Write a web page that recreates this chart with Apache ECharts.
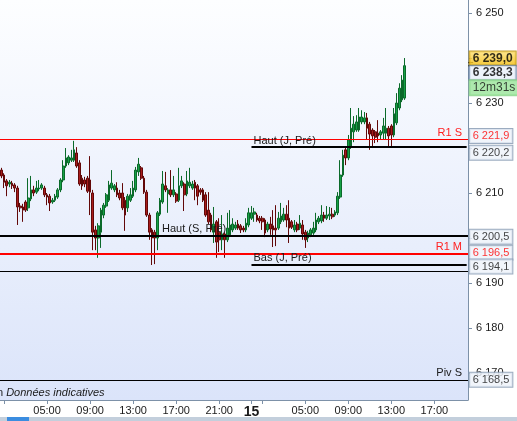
<!DOCTYPE html>
<html><head><meta charset="utf-8">
<script src="https://cdn.jsdelivr.net/npm/echarts@6/dist/echarts.min.js"></script>
<style>html,body{margin:0;padding:0;background:#fff}#c{width:517px;height:421px}</style>
</head><body><div id="c"></div>
<script>
// ---- data (15-minute candles, from 14 00:45) ----
const opens = [6215.1,6214.0,6212.7,6212.0,6212.2,6211.8,6211.1,6207.1,6206.9,6208.0,
6206.7,6208.7,6210.7,6210.2,6210.9,6211.1,6211.1,6209.6,6209.3,6208.0,
6208.4,6209.1,6210.7,6212.9,6216.0,6216.7,6217.3,6217.3,6218.9,6216.7,
6213.3,6212.9,6213.3,6212.9,6210.0,6201.8,6200.0,6201.3,6205.1,6207.1,
6208.4,6211.1,6210.7,6211.1,6210.0,6210.0,6208.4,6206.7,6208.4,6209.3,
6210.7,6214.7,6215.6,6213.3,6210.2,6205.1,6201.8,6201.3,6200.0,6205.3,
6208.0,6211.6,6209.8,6210.7,6209.6,6209.8,6208.4,6211.6,6212.0,6209.8,
6211.6,6211.1,6212.4,6211.6,6210.7,6210.7,6209.6,6206.2,6205.1,6201.3,
6203.6,6201.3,6199.6,6200.9,6199.6,6200.7,6201.8,6202.2,6203.1,6202.7,
6202.2,6201.8,6202.9,6204.4,6205.3,6205.1,6204.4,6204.4,6204.0,6201.8,
6203.1,6202.7,6202.2,6202.2,6203.6,6204.0,6205.3,6204.4,6203.6,6201.8,
6203.1,6202.2,6202.9,6201.3,6200.0,6200.7,6201.1,6201.8,6203.6,6203.8,
6205.1,6204.4,6204.9,6205.3,6205.1,6205.6,6209.1,6214.0,6219.6,6217.8,
6220.2,6223.6,6224.0,6224.0,6225.8,6225.8,6226.7,6225.3,6224.0,6223.6,
6223.3,6222.9,6223.3,6223.3,6224.4,6224.9,6222.9,6225.6,6228.9,6230.7,
6231.1];
const closes = [6213.8,6212.4,6211.6,6212.4,6211.6,6211.1,6206.9,6206.7,6206.2,6206.2,
6208.9,6210.7,6210.0,6211.1,6211.1,6211.8,6209.6,6209.1,6207.8,6208.4,
6209.3,6210.7,6212.9,6216.0,6217.8,6218.0,6217.8,6219.6,6216.0,6212.0,
6211.6,6212.0,6210.4,6210.2,6201.3,6200.0,6202.7,6206.2,6207.3,6209.6,
6211.8,6212.2,6211.6,6209.6,6208.9,6206.7,6205.1,6209.3,6209.6,6211.1,
6215.1,6216.4,6213.3,6210.2,6205.1,6201.3,6200.0,6200.0,6205.6,6208.4,
6212.0,6210.7,6210.7,6209.6,6210.7,6208.2,6211.6,6212.7,6209.6,6212.7,
6212.4,6212.0,6211.1,6209.3,6210.2,6208.4,6205.1,6203.6,6201.8,6203.1,
6199.1,6199.6,6200.9,6199.6,6202.2,6202.9,6203.1,6202.9,6202.2,6201.8,
6201.8,6203.3,6205.6,6205.6,6205.8,6204.0,6203.8,6203.6,6201.1,6203.1,
6202.0,6201.8,6201.8,6204.4,6204.9,6205.3,6204.0,6202.2,6202.4,6202.9,
6201.8,6203.3,6200.9,6199.6,6201.1,6201.8,6202.2,6204.0,6204.4,6205.1,
6204.4,6205.1,6205.3,6204.7,6205.8,6209.3,6214.0,6218.4,6217.8,6221.8,
6224.4,6225.3,6225.8,6226.9,6226.9,6226.7,6224.4,6223.1,6222.7,6222.4,
6222.7,6223.6,6224.9,6224.4,6222.7,6222.9,6227.6,6230.0,6233.3,6235.1,
6238.3];
const lows = [6213.3,6211.1,6209.3,6211.3,6210.9,6210.2,6202.9,6205.8,6203.6,6205.8,
6206.0,6208.2,6209.3,6209.8,6210.4,6210.7,6209.1,6207.3,6206.0,6207.6,
6208.0,6208.7,6210.2,6212.4,6215.6,6216.2,6216.9,6216.9,6215.6,6211.6,
6210.7,6211.3,6210.0,6205.1,6197.3,6197.3,6195.6,6197.8,6204.4,6206.7,
6208.0,6210.7,6210.2,6209.1,6208.4,6206.2,6201.6,6205.8,6208.0,6208.9,
6210.2,6213.8,6212.9,6209.8,6204.7,6199.6,6194.0,6194.2,6197.3,6204.9,
6207.6,6210.2,6205.6,6209.1,6209.1,6207.8,6208.0,6211.1,6206.0,6209.3,
6211.1,6210.7,6208.4,6207.3,6209.6,6208.0,6204.7,6203.1,6201.3,6198.9,
6195.6,6196.9,6197.3,6195.6,6199.1,6200.2,6201.3,6201.8,6201.8,6201.1,
6201.3,6201.3,6202.4,6204.0,6203.6,6203.6,6203.3,6201.8,6200.2,6201.3,
6200.7,6198.0,6198.2,6201.8,6203.1,6203.6,6202.4,6198.9,6202.0,6201.3,
6201.3,6201.8,6199.6,6197.8,6199.1,6200.2,6200.7,6201.3,6203.1,6203.3,
6203.6,6204.0,6204.0,6204.2,6204.7,6205.1,6208.7,6213.6,6216.2,6217.3,
6219.8,6221.3,6223.6,6223.6,6225.3,6225.3,6221.8,6219.6,6220.0,6221.1,
6221.3,6221.8,6221.8,6221.8,6220.4,6220.2,6222.4,6225.1,6228.4,6230.2,
6230.7];
const highs = [6215.6,6214.4,6213.1,6212.9,6212.7,6212.2,6211.6,6207.8,6207.6,6208.4,
6213.3,6213.8,6211.6,6212.7,6212.9,6212.2,6211.6,6210.0,6209.8,6208.9,
6209.8,6211.1,6213.3,6217.3,6220.0,6218.4,6219.6,6221.6,6220.2,6217.3,
6214.0,6213.6,6213.8,6218.2,6210.7,6202.7,6203.3,6206.7,6207.8,6210.0,
6212.7,6215.1,6212.0,6212.4,6210.7,6212.2,6209.1,6209.8,6211.1,6212.7,
6215.8,6217.8,6216.0,6213.8,6210.7,6205.6,6202.2,6201.8,6206.0,6208.9,
6214.9,6214.7,6211.1,6215.1,6213.8,6210.2,6215.6,6213.8,6212.4,6214.9,
6215.6,6212.7,6212.9,6212.0,6211.1,6211.1,6210.2,6210.2,6205.6,6206.9,
6204.0,6204.4,6205.1,6201.3,6205.6,6206.2,6204.4,6203.6,6204.0,6203.1,
6202.7,6204.4,6206.7,6207.1,6206.7,6205.6,6204.9,6204.9,6204.4,6203.6,
6204.7,6206.2,6207.3,6205.8,6207.8,6206.7,6207.3,6208.4,6204.0,6204.0,
6203.6,6205.1,6204.0,6201.8,6201.6,6202.2,6203.6,6205.6,6204.9,6207.3,
6205.8,6207.1,6206.9,6206.7,6206.2,6210.2,6217.3,6219.6,6220.4,6222.9,
6228.9,6227.1,6227.3,6228.9,6228.4,6228.0,6227.8,6225.8,6224.4,6224.0,
6226.2,6224.0,6226.7,6228.9,6224.9,6225.3,6228.9,6232.2,6234.4,6236.2,
6240.0];

// time slots of the category axis (15 min, 14 00:45 -> 15 20:00)
const firstSlotMinutes = 45, slotMinutes = 15, slotCount = 174;
const categories = [];
for (let i = 0; i < slotCount; i++) {
  const m = firstSlotMinutes + slotMinutes * i;
  const day = 14 + Math.floor(m / 1440), mm = m % 1440;
  categories.push(day + ' ' + String(Math.floor(mm / 60)).padStart(2, '0') + ':' + String(mm % 60).padStart(2, '0'));
}
const tickSlots = ['14 01:00','14 05:00','14 09:00','14 13:00','14 17:00','14 21:00','15 00:00','15 01:00','15 05:00','15 09:00','15 13:00','15 17:00'];
const tickLabels = ['','05:00','09:00','13:00','17:00','21:00','15','','05:00','09:00','13:00','17:00'];

// horizontal levels
const levelNames  = ['R1 S','Haut (J, Pré)','Haut (S, Pré)','R1 M','Bas (J, Pré)','','Piv S'];
const levelValues = [6221.9, 6220.2, 6200.5, 6196.5, 6194.1, 6192.7, 6168.5];
const levelStart  = [null, '15 00:00', null, null, '15 00:00', null, null];
const levelLabelStart = [null, null, '14 15:30', null, null, null, null];

// price tags on the axis
const tagValues = [6239.0, 6238.3, 6221.9, 6220.2, 6200.5, 6196.5, 6194.1, 6168.5];
const timerText = '12m31s';
const lastPrices = [6239.0, 6238.3];

// ---- styles ----
const levelColors = ['#ff0000','#000000','#000000','#ff0000','#000000','#000000','#000000'];
const levelWidths = [1, 2, 2, 2, 2, 1, 1];
const levelLabelColor = ['#ff2020','#1a1a1a','#1a1a1a','#ff2020','#1a1a1a','#1a1a1a','#1a1a1a'];
const tagOffsets = [-4, 7, -3.5, 5.5, 1, -1, 2, 0];
const tagStyles = [
  {color:'#000', fontWeight:'bold', fontSize:12, backgroundColor:new echarts.graphic.LinearGradient(0,0,0,1,[{offset:0,color:'#ffe27a'},{offset:1,color:'#f0b800'}]), borderColor:'#b58a00'},
  {color:'#000', fontWeight:'bold', fontSize:12, backgroundColor:'#e9f0fa', borderColor:'#4d6b93'},
  {color:'#ff0000', backgroundColor:'#eef3fa', borderColor:'#8397b0'},
  {color:'#111', backgroundColor:'#eef3fa', borderColor:'#8397b0'},
  {color:'#111', backgroundColor:'#eef3fa', borderColor:'#8397b0'},
  {color:'#ff0000', backgroundColor:'#eef3fa', borderColor:'#8397b0'},
  {color:'#111', backgroundColor:'#eef3fa', borderColor:'#8397b0'},
  {color:'#111', backgroundColor:'#eef3fa', borderColor:'#8397b0'}
];
const FONT = 'Liberation Sans, Arial, sans-serif';

function fmtPrice(v) {
  const s = v.toFixed(1).split('.');
  return s[0].replace(/\B(?=(\d{3})+(?!\d))/g, ' ') + ',' + s[1];
}
function fmtInt(v) { return String(Math.round(v)).replace(/\B(?=(\d{3})+(?!\d))/g, ' '); }

const candleData = opens.map((o, i) => [o, closes[i], lows[i], highs[i]]);
const lastSlot = slotCount - 1;

const markLineData = [];
levelValues.forEach((v, k) => {
  const ls = {color: levelColors[k], width: levelWidths[k], type: 'solid'};
  const lab = {show: !!levelNames[k] && !levelLabelStart[k], formatter: levelNames[k], color: levelLabelColor[k], fontFamily: FONT, fontSize: 11};
  if (levelStart[k]) {
    markLineData.push([
      {coord: [levelStart[k], v], lineStyle: ls, label: Object.assign({position: 'insideStartTop', distance: [2, 1]}, lab)},
      {coord: [categories[lastSlot], v]}
    ]);
  } else {
    markLineData.push({yAxis: v, lineStyle: ls, label: Object.assign({position: 'insideEndTop', distance: [6, 1]}, lab)});
  }
  if (levelLabelStart[k]) {
    markLineData.push([
      {coord: [levelLabelStart[k], v], lineStyle: {width: 0, opacity: 1, color: 'rgba(0,0,0,0)'},
       label: {show: true, position: 'insideStartTop', distance: [2, 1], formatter: levelNames[k], color: levelLabelColor[k], fontFamily: FONT, fontSize: 11, opacity: 1}},
      {coord: [categories[lastSlot], v]}
    ]);
  }
});

const tagItems = tagValues.map((v, k) => ({
  value: [lastSlot, v],
  label: Object.assign({show: true, position: 'right', distance: 3, offset: [0, tagOffsets[k]],
    formatter: fmtPrice(v), fontFamily: FONT, fontSize: 11, borderWidth: 1, padding: [1, 3, 1, 3], lineHeight: 12}, tagStyles[k])
}));
tagItems.push({
  value: [lastSlot, lastPrices[1]],
  label: {show: true, position: 'right', distance: 3, offset: [0, 22], formatter: timerText, fontFamily: FONT, fontSize: 12,
    color: '#111', backgroundColor: '#98e398', borderColor: '#86cf86', borderWidth: 1, padding: [1, 4, 1, 3], lineHeight: 13}
});

const chart = echarts.init(document.getElementById('c'), null, {renderer: 'canvas'});
chart.setOption({
  animation: false,
  backgroundColor: '#ffffff',
  grid: {left: 0, right: 49, top: 0, bottom: 21, show: true, borderWidth: 0,
    backgroundColor: new echarts.graphic.LinearGradient(0, 0, 0, 1, [{offset: 0, color: '#fdfeff'}, {offset: 1, color: '#dbe4fa'}])},
  xAxis: {
    type: 'category', data: categories, boundaryGap: true,
    axisLine: {show: true, lineStyle: {color: '#7d91a8', width: 1}},
    axisTick: {show: true, alignWithLabel: true, length: 4, lineStyle: {color: '#7d91a8'},
      interval: (i, v) => tickSlots.includes(v)},
    axisLabel: {show: true, margin: 5, color: '#1a1a1a', fontFamily: FONT, fontSize: 11,
      interval: (i, v) => tickSlots.includes(v),
      formatter: v => { const k = tickSlots.indexOf(v); const t = k < 0 ? '' : tickLabels[k]; return t === '15' ? '{d|15}' : t; },
      rich: {d: {fontWeight: 'bold', fontSize: 14, fontFamily: FONT, color: '#1a1a1a'}}},
    splitLine: {show: false}
  },
  yAxis: {
    type: 'value', position: 'right', min: 6164, max: 6252.9, splitNumber: 9, scale: true,
    axisLine: {show: true, lineStyle: {color: '#7d91a8', width: 1}},
    axisTick: {show: true, inside: false, length: 4, lineStyle: {color: '#7d91a8'}},
    axisLabel: {show: true, margin: 8, color: '#1a1a1a', fontFamily: FONT, fontSize: 11, showMinLabel: false, showMaxLabel: false,
      formatter: v => { const r = Math.round(v); return (Math.abs(v - r) < 1e-6 && r % 10 === 0 && r !== 6240 && r !== 6220 && r !== 6200) ? fmtInt(r) : ''; }},
    splitLine: {show: false}
  },
  series: [
    {
      type: 'candlestick', name: 'prix', data: candleData, barWidth: 2.2,
      itemStyle: {color: '#16a046', color0: '#a81c1c', borderColor: '#0b6a2a', borderColor0: '#620808', borderWidth: 1},
      markLine: {silent: true, symbol: ['none', 'none'], animation: false, data: markLineData}
    },
    {
      type: 'scatter', name: 'tags', data: tagItems, symbolSize: 0, silent: true, clip: false, z: 10
    },
    {
      type: 'scatter', name: 'last', data: lastPrices.map(v => [lastSlot, v]), symbol: 'rect', symbolSize: [5, 1.2],
      symbolOffset: [4, 0], itemStyle: {color: '#000'}, silent: true, clip: false, z: 9
    }
  ],
  graphic: [
    {type: 'text', left: -3, top: 387, silent: true,
      style: {text: '{a|n }{b|Données indicatives}', font: '11px ' + FONT, fill: '#1a1a1a',
        rich: {a: {fontFamily: FONT, fontSize: 11, fill: '#1a1a1a'}, b: {fontFamily: FONT, fontSize: 11, fontStyle: 'italic', fill: '#1a1a1a'}}}},
    {type: 'rect', left: 0, top: 417, shape: {width: 517, height: 4}, style: {fill: '#c3cfdc'}, silent: true},
    {type: 'rect', left: 7, top: 417, shape: {width: 22, height: 4}, style: {fill: '#3b8de0'}, silent: true}
  ]
});
</script>
</body></html>
